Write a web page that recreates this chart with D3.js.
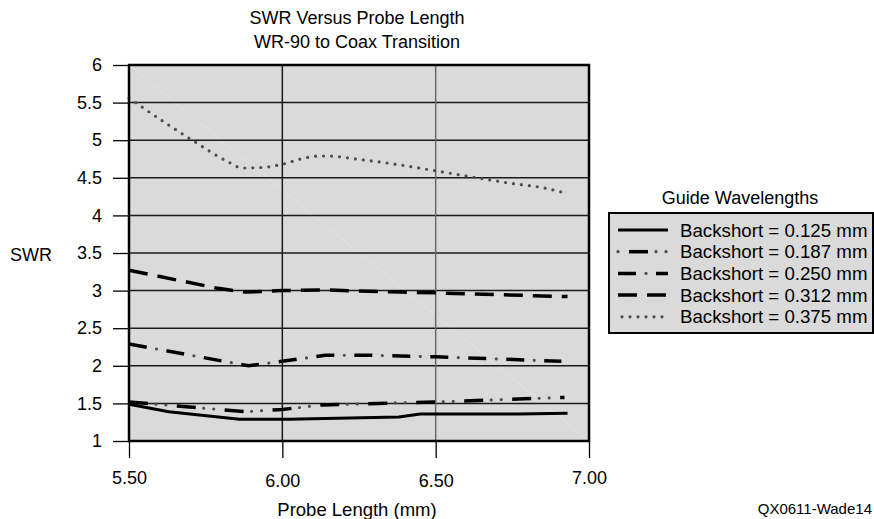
<!DOCTYPE html>
<html>
<head>
<meta charset="utf-8">
<script src="https://cdn.jsdelivr.net/npm/d3@7"></script>
<style>
  body { margin: 0; background: #fff; }
  svg { display: block; font-family: "Liberation Sans", Arial, sans-serif; }
</style>
</head>
<body>
<svg width="874" height="519"></svg>
<script>
// values
const xTicks = [5.5, 6.0, 6.5, 7.0]
const xTickLabels = ['5.50', '6.00', '6.50', '7.00']
const yTicks = [1, 1.5, 2, 2.5, 3, 3.5, 4, 4.5, 5, 5.5, 6]
const yTickLabels = ['1', '1.5', '2', '2.5', '3', '3.5', '4', '4.5', '5', '5.5', '6']

const seriesNames = ['Backshort = 0.125 mm', 'Backshort = 0.187 mm', 'Backshort = 0.250 mm', 'Backshort = 0.312 mm', 'Backshort = 0.375 mm']

const probe125 = [5.50, 5.63, 5.86, 6.02, 6.38, 6.45, 6.77, 6.93]
const swr125 = [1.49, 1.39, 1.29, 1.29, 1.32, 1.36, 1.36, 1.37]

const probe187 = [5.50, 5.88, 6.00, 6.13, 6.50, 6.92]
const swr187 = [1.52, 1.39, 1.42, 1.48, 1.52, 1.58]

const probe250 = [5.50, 5.89, 6.00, 6.14, 6.28, 6.50, 6.91]
const swr250 = [2.29, 2.00, 2.06, 2.14, 2.14, 2.12, 2.06]

const probe312 = [5.50, 5.79, 5.88, 6.00, 6.13, 6.38, 6.50, 6.93]
const swr312 = [3.27, 3.03, 2.98, 3.00, 3.01, 2.98, 2.97, 2.92]

const probe375 = [5.50, 5.63, 5.71, 5.82, 5.87, 5.94, 6.00, 6.06, 6.12, 6.15, 6.24, 6.37, 6.49, 6.62, 6.74, 6.86, 6.92]
const swr375 = [5.56, 5.20, 4.99, 4.72, 4.63, 4.64, 4.68, 4.75, 4.79, 4.79, 4.75, 4.68, 4.60, 4.51, 4.43, 4.36, 4.30]

const probes = [probe125, probe187, probe250, probe312, probe375]
const swrs = [swr125, swr187, swr250, swr312, swr375]

// line looks: black dashes layer + grey dots layer
const styles = [
  { dash: null, dots: null, legendOffset: 0 },
  { dash: '19 29', dashOffset: 0, dots: '0 10 0 38', dotOffset: -27, legendOffset: 37 },
  { dash: '18 20', dashOffset: 0, dots: '0 38', dotOffset: -28, legendOffset: 0 },
  { dash: '19 10', dashOffset: 0, dots: null, legendOffset: 0 },
  { dash: 'none', dots: '0 8', dotOffset: 0, legendOffset: 0 }
]

const svg = d3.select('svg')
const plotLeft = 129, plotRight = 589, plotTop = 65, plotBottom = 441

const x = d3.scaleLinear().domain([5.5, 7.0]).range([plotLeft, plotRight])
const y = d3.scaleLinear().domain([1, 6]).range([plotBottom, plotTop])

// titles
svg.append('text')
  .attr('x', 357).attr('y', 23.5)
  .attr('text-anchor', 'middle')
  .style('font-size', '18px')
  .text('SWR Versus Probe Length')
svg.append('text')
  .attr('x', 357).attr('y', 47.5)
  .attr('text-anchor', 'middle')
  .style('font-size', '18px')
  .text('WR-90 to Coax Transition')

// plot background
svg.append('rect')
  .attr('x', plotLeft).attr('y', plotTop)
  .attr('width', plotRight - plotLeft).attr('height', plotBottom - plotTop)
  .attr('fill', '#dadada')
svg.append('line')
  .attr('x1', plotLeft).attr('y1', plotTop).attr('x2', plotRight).attr('y2', plotBottom)
  .attr('stroke', '#e6e6e6').attr('stroke-width', 0.7)

// grid
svg.append('g').selectAll('line')
  .data(yTicks.slice(1, -1))
  .enter().append('line')
  .attr('x1', plotLeft).attr('x2', plotRight)
  .attr('y1', d => y(d)).attr('y2', d => y(d))
  .attr('stroke', '#1a1a1a').attr('stroke-width', 1.5)
svg.append('g').selectAll('line')
  .data(xTicks.slice(1, -1))
  .enter().append('line')
  .attr('y1', plotTop).attr('y2', plotBottom)
  .attr('x1', d => x(d)).attr('x2', d => x(d))
  .attr('stroke', (d, i) => i === 0 ? '#1a1a1a' : '#6a6a6a').attr('stroke-width', 1.5)

// axes
const yAxis = svg.append('g')
  .attr('transform', 'translate(' + plotLeft + ',0)')
  .call(d3.axisLeft(y).tickValues(yTicks).tickSize(16).tickPadding(11)
    .tickFormat((d, i) => yTickLabels[i]))
yAxis.select('.domain').remove()
yAxis.selectAll('line').attr('stroke', '#000').attr('stroke-width', 1.3)
yAxis.selectAll('text').style('font-size', '18px').attr('fill', '#000')

const xAxis = svg.append('g')
  .attr('transform', 'translate(0,' + plotBottom + ')')
  .call(d3.axisBottom(x).tickValues(xTicks).tickSize(17).tickPadding(15)
    .tickFormat((d, i) => xTickLabels[i]))
xAxis.select('.domain').remove()
xAxis.selectAll('line').attr('stroke', '#000').attr('stroke-width', 1.3)
xAxis.selectAll('text').style('font-size', '18px').attr('fill', '#000')
  // end labels sit a little higher in the original
  .attr('y', (d, i) => (i === 0 || i === xTicks.length - 1) ? 30 : 33)

svg.append('text')
  .attr('x', 357).attr('y', 515.5)
  .attr('text-anchor', 'middle')
  .style('font-size', '18.5px')
  .text('Probe Length (mm)')
svg.append('text')
  .attr('x', 10).attr('y', 260.5)
  .style('font-size', '18px')
  .text('SWR')
svg.append('text')
  .attr('x', 872).attr('y', 514)
  .attr('text-anchor', 'end')
  .style('font-size', '15px')
  .text('QX0611-Wade14')

// series
function drawStyled (g, d, st, shift) {
  if (st.dash === null) {
    g.append('path').attr('d', d).attr('fill', 'none')
      .attr('stroke', '#000').attr('stroke-width', 3)
    return
  }
  if (st.dash !== 'none') {
    g.append('path').attr('d', d).attr('fill', 'none')
      .attr('stroke', '#000').attr('stroke-width', 3.5)
      .attr('stroke-dasharray', st.dash)
      .attr('stroke-dashoffset', st.dashOffset + shift)
  }
  if (st.dots) {
    g.append('path').attr('d', d).attr('fill', 'none')
      .attr('stroke', '#4d4d4d').attr('stroke-width', 3.2)
      .attr('stroke-linecap', 'round')
      .attr('stroke-dasharray', st.dots)
      .attr('stroke-dashoffset', st.dotOffset + shift)
  }
}

const lines = svg.append('g')
seriesNames.forEach((name, i) => {
  const pts = probes[i].map((p, k) => [p, swrs[i][k]])
  const line = d3.line()
    .x(d => x(d[0])).y(d => y(d[1]))
    .curve(i === 4 ? d3.curveMonotoneX : d3.curveLinear)
  drawStyled(lines.append('g'), line(pts), styles[i], 0)
})

// plot frame
svg.append('rect')
  .attr('x', plotLeft).attr('y', plotTop)
  .attr('width', plotRight - plotLeft).attr('height', plotBottom - plotTop)
  .attr('fill', 'none').attr('stroke', '#000').attr('stroke-width', 2.5)

// legend
svg.append('text')
  .attr('x', 740).attr('y', 203.5)
  .attr('text-anchor', 'middle')
  .style('font-size', '18px')
  .text('Guide Wavelengths')

const legend = svg.append('g')
legend.append('rect')
  .attr('x', 609).attr('y', 213).attr('width', 264).attr('height', 120)
  .attr('fill', '#dadada').attr('stroke', '#000').attr('stroke-width', 2)

const legendEnter = legend.selectAll('g')
  .data(seriesNames)
  .enter().append('g')
  .attr('transform', (d, i) => 'translate(0,' + (230 + i * 21.7) + ')')

legendEnter.each(function (d, i) {
  const g = d3.select(this)
  const x0 = i === 4 ? 622 : 618
  drawStyled(g, 'M' + x0 + ',0H668', styles[i], styles[i].legendOffset)
  g.append('text')
    .attr('x', 680).attr('y', 0)
    .attr('dy', '0.35em')
    .style('font-size', '18.7px')
    .text(d)
})
</script>
</body>
</html>
